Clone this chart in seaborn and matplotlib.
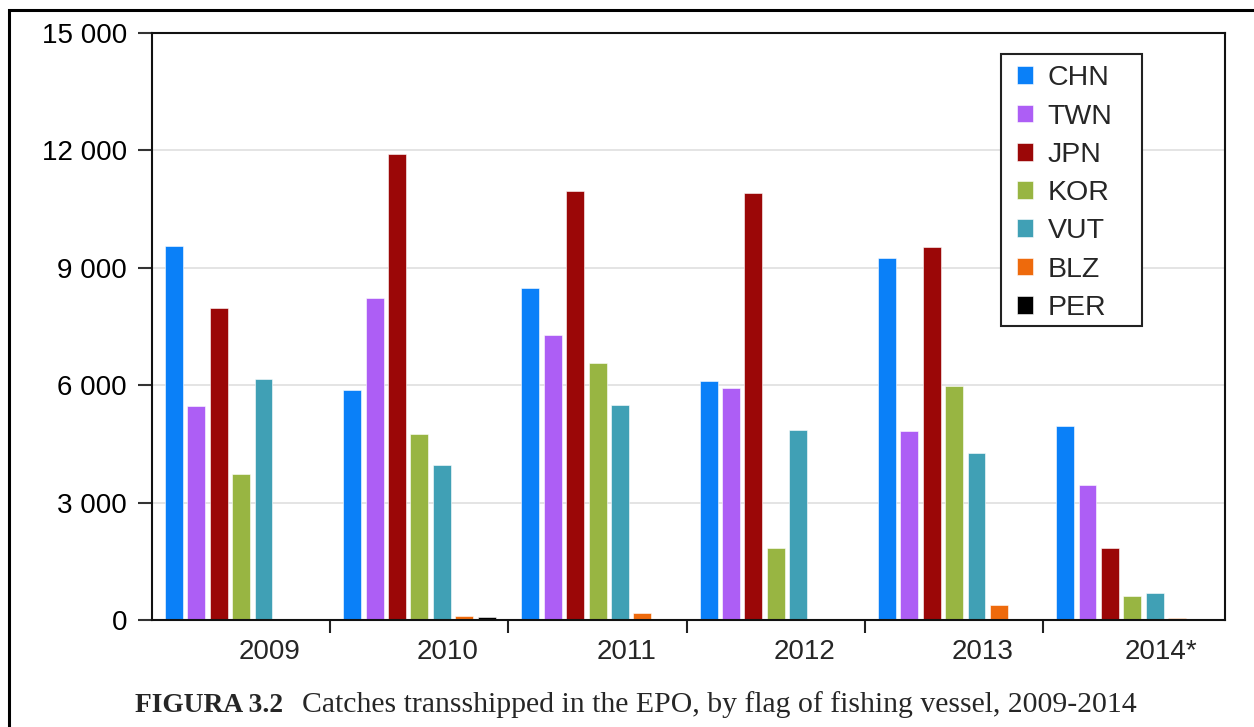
import pandas as pd
import matplotlib.pyplot as plt
import seaborn as sns
from matplotlib.ticker import FuncFormatter, FixedLocator
from matplotlib.patches import Rectangle

# values (tonnes)
years = ['2009', '2010', '2011', '2012', '2013', '2014*']
flags = ['CHN', 'TWN', 'JPN', 'KOR', 'VUT', 'BLZ', 'PER']
chn = [9550, 5880, 8480, 6100, 9250, 4950]
twn = [5460, 8220, 7290, 5920, 4840, 3460]
jpn = [7970, 11900, 10960, 10900, 9530, 1850]
kor = [3720, 4750, 6560, 1840, 5990, 610]
vut = [6160, 3970, 5500, 4860, 4260, 690]
blz = [0, 90, 190, 0, 390, 40]
per = [0, 80, 0, 0, 0, 0]
colors = ['#0A80F8', '#AD5EF5', '#9B0707', '#98B542', '#40A0B5', '#EE6A0C', '#000000']

series = [chn, twn, jpn, kor, vut, blz, per]
rows = []
for flag, vals in zip(flags, series):
    for yr, v in zip(years, vals):
        rows.append({'year': yr, 'flag': flag, 'catch': v})
df = pd.DataFrame(rows)

sns.set_style('white')
plt.rcParams['font.family'] = ['Liberation Sans', 'DejaVu Sans']

fig = plt.figure(figsize=(12.54, 7.27), dpi=100)
ax = fig.add_axes([152 / 1254, 1 - 620 / 727, 1073 / 1254, 587 / 727])

sns.barplot(data=df, x='year', y='catch', hue='flag', hue_order=flags,
            order=years, palette=colors, width=0.88, gap=0.2,
            edgecolor='white', linewidth=0.4, ax=ax, saturation=1)

ax.set_ylim(0, 15000)
ax.set_xlim(-0.5, 5.52)
ax.yaxis.set_major_locator(FixedLocator([0, 3000, 6000, 9000, 12000, 15000]))
ax.yaxis.set_major_formatter(FuncFormatter(lambda v, p: f'{v:,.0f}'.replace(',', ' ')))
ax.yaxis.grid(True, color='#dcdcdc', linewidth=1.1)
ax.set_axisbelow(True)
ax.tick_params(axis='y', left=True, length=10, width=1.5, color='#333333',
               pad=8, labelsize=20, labelcolor='black')

# year labels sit right of the group centre, tick marks at group borders
ax.set_xticks([i + 0.16 for i in range(len(years))])
ax.set_xticklabels(years)
ax.set_xticks([i + 0.5 for i in range(len(years) - 1)], minor=True)
ax.tick_params(axis='x', which='major', length=0, pad=14, labelsize=20)
ax.tick_params(axis='x', which='minor', bottom=True, length=9.5, width=1.5,
               color='#222222', direction='out')
ax.set_xlabel('')
ax.set_ylabel('')

for s in ax.spines.values():
    s.set_visible(True)
    s.set_color('#111111')
    s.set_linewidth(1.5)

# legend entries without frame, box drawn separately
leg = ax.legend(loc='upper left', bbox_to_anchor=(0.8061, 0.9448),
                borderaxespad=0, borderpad=0, fontsize=20.5, handlelength=0.58,
                handleheight=0.58, handletextpad=0.50, labelspacing=0.43,
                frameon=False)
ax.add_patch(Rectangle((0.7912, 0.5009), 0.9226 - 0.7912, 0.9642 - 0.5009,
                       transform=ax.transAxes, fill=True, facecolor='white',
                       edgecolor='#222222', linewidth=1.5, zorder=4))
leg.set_zorder(5)

# caption
fig.text(135 / 1254, 1 - 712 / 727, 'FIGURA 3.2', fontsize=19.8, fontweight='bold',
         family='Liberation Serif', ha='left', va='baseline')
fig.text(302 / 1254, 1 - 712 / 727,
         'Catches transshipped in the EPO, by flag of fishing vessel, 2009-2014',
         fontsize=21.4, family='Liberation Serif', ha='left', va='baseline')

# outer page frame
fig.patches.append(Rectangle((9 / 1254, -0.1), 1.2, 1 - 10 / 727 + 0.1,
                             transform=fig.transFigure, fill=False,
                             edgecolor='black', linewidth=2.2))

fig.savefig('out.png', dpi=100)
